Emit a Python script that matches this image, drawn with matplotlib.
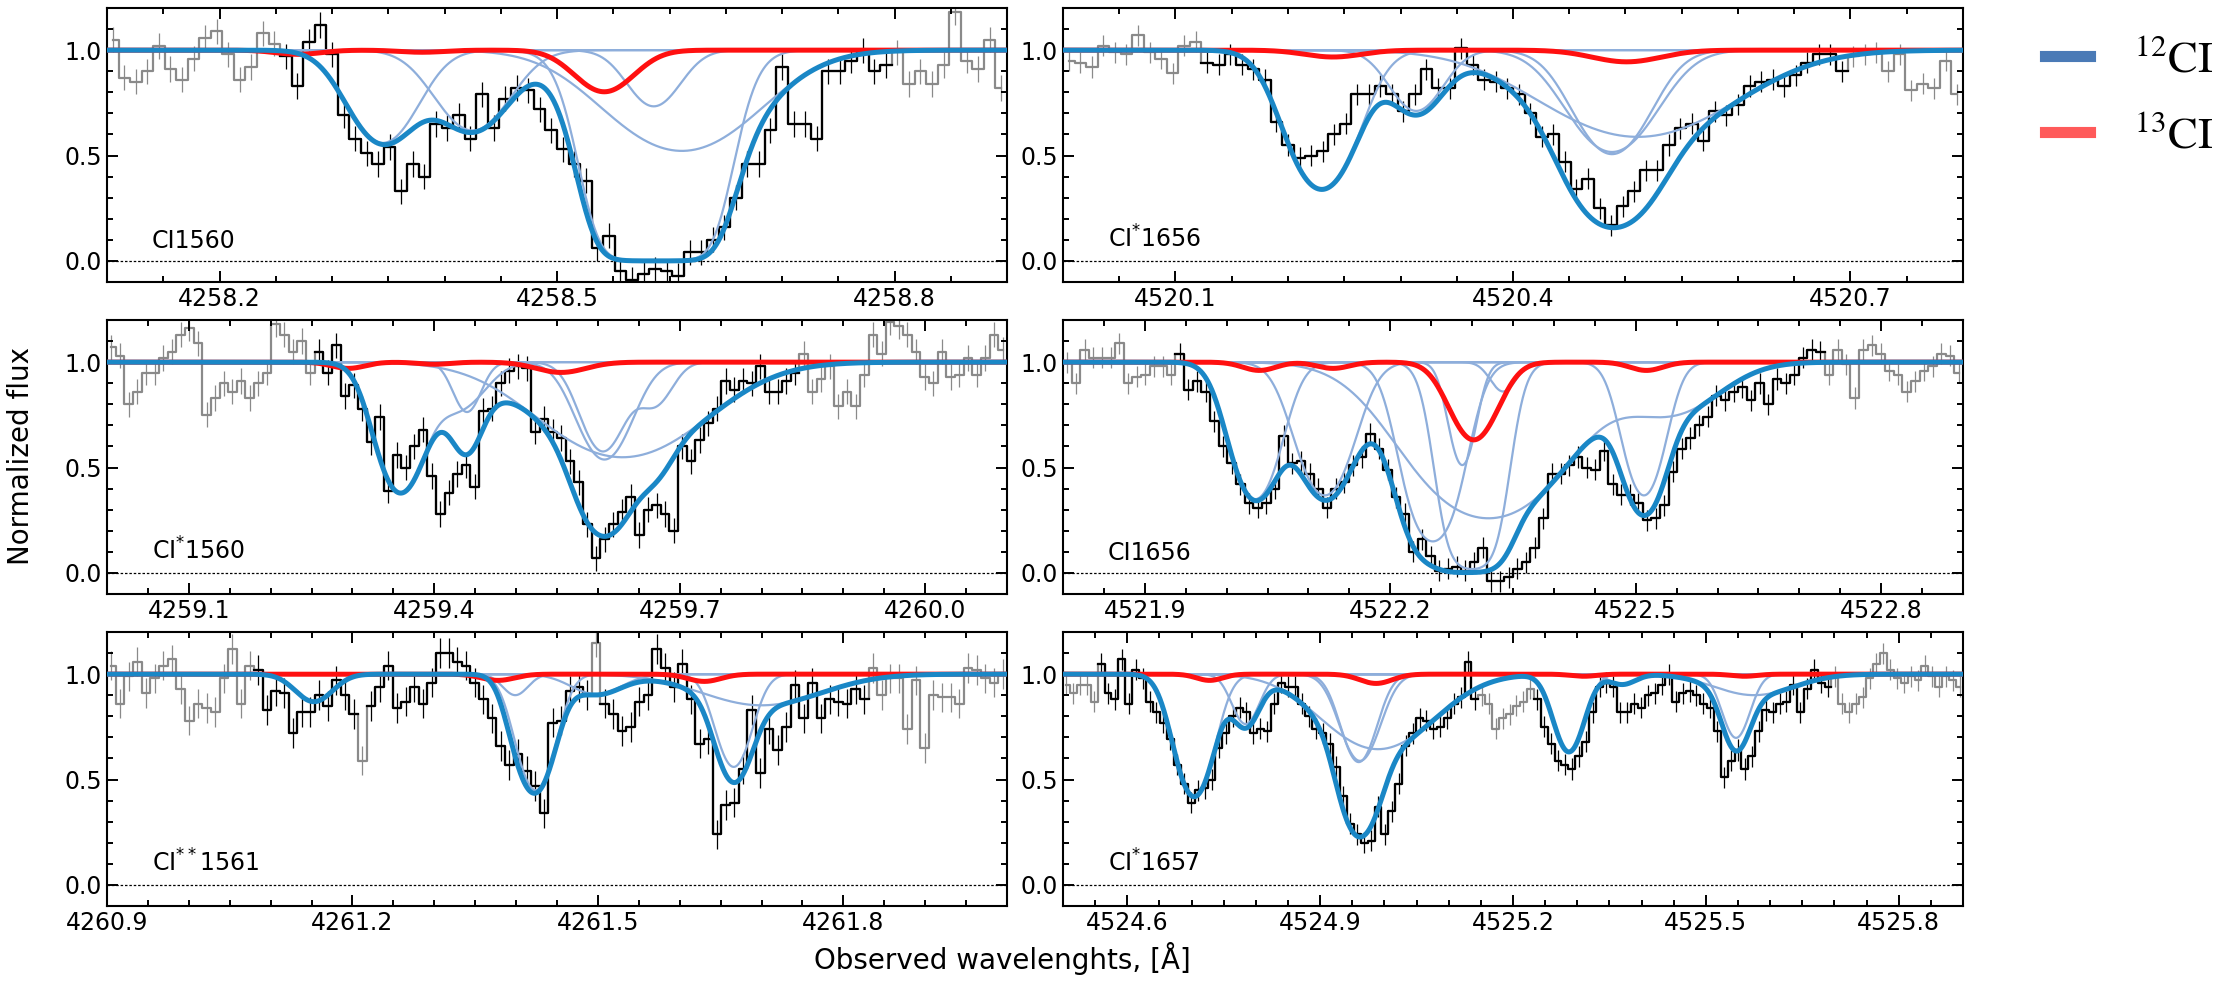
import numpy as np
import matplotlib
matplotlib.use("Agg")
import matplotlib.pyplot as plt
from matplotlib.lines import Line2D
from matplotlib.ticker import MultipleLocator
from matplotlib.font_manager import FontProperties

# ---------------- data ----------------
# panel order: top-left, top-right, mid-left, mid-right, bottom-left, bottom-right
names = ["CI1560", "CI$^{*}$1656", "CI$^{*}$1560", "CI1656", "CI$^{**}$1561", "CI$^{*}$1657"]
xlims = [(4258.1, 4258.9), (4520.0, 4520.8), (4259.0, 4260.1),
         (4521.8, 4522.9), (4260.9, 4262.0), (4524.5, 4525.9)]
fit_ranges = [(4258.253, 4258.795), (4520.125, 4520.698), (4259.253, 4259.843),
              (4521.937, 4522.731), (4261.084, 4261.835), (4524.555, 4525.699)]
masked = [[], [], [], [], [(4261.204, 4261.218), (4261.490, 4261.502)],
          [(4525.144, 4525.230)]]
flux_err = [0.06, 0.05, 0.06, 0.05, 0.07, 0.05]

flux_tl = [1.05, 0.87, 0.85, 0.90, 1.02, 0.91, 0.86, 0.96, 1.06, 1.09, 0.98, 0.86, 0.92,
           1.08, 1.03, 0.97, 0.83, 1.04, 1.12, 0.98, 0.69, 0.58, 0.51, 0.46, 0.54, 0.33,
           0.46, 0.40, 0.65, 0.63, 0.69, 0.58, 0.79, 0.63, 0.77, 0.82, 0.81, 0.72, 0.62,
           0.53, 0.46, 0.38, 0.06, 0.12, -0.05, -0.09, -0.06, -0.04, -0.05, -0.07, 0.04,
           0.04, 0.10, 0.16, 0.30, 0.46, 0.46, 0.62, 0.92, 0.65, 0.65, 0.58, 0.90, 0.90,
           0.95, 1.00, 0.90, 0.93, 0.99, 0.84, 0.90, 0.84, 0.93, 1.18, 0.95, 0.91, 1.05,
           0.82]
flux_tr = [0.95, 0.94, 0.92, 1.02, 0.99, 0.98, 1.07, 0.99, 0.96, 0.89, 1.02, 1.04, 0.94,
           0.93, 0.98, 0.93, 0.91, 0.86, 0.66, 0.55, 0.49, 0.50, 0.52, 0.60, 0.65, 0.79,
           0.79, 0.83, 0.79, 0.71, 0.79, 0.91, 0.82, 0.82, 1.01, 0.93, 0.86, 0.85, 0.82,
           0.79, 0.70, 0.59, 0.60, 0.47, 0.34, 0.39, 0.25, 0.17, 0.26, 0.33, 0.43, 0.43,
           0.55, 0.63, 0.65, 0.57, 0.71, 0.69, 0.74, 0.83, 0.85, 0.86, 0.83, 0.88, 0.94,
           0.98, 0.98, 0.90, 0.97, 0.98, 0.99, 0.90, 0.98, 0.81, 0.84, 0.82, 0.95, 0.79]
flux_ml = [1.07, 1.03, 0.80, 0.86, 0.95, 0.95, 1.02, 1.05, 1.13, 1.16, 1.09, 0.75, 0.83,
           0.90, 0.86, 0.91, 0.83, 0.90, 0.95, 1.18, 1.13, 1.05, 1.10, 0.95, 1.05, 0.95,
           1.08, 0.84, 0.89, 0.78, 0.62, 0.74, 0.39, 0.56, 0.50, 0.60, 0.68, 0.46, 0.28,
           0.38, 0.47, 0.51, 0.41, 0.77, 0.78, 0.90, 0.96, 0.98, 0.97, 0.67, 0.73, 0.67,
           0.64, 0.53, 0.43, 0.23, 0.07, 0.16, 0.23, 0.29, 0.36, 0.18, 0.30, 0.32, 0.28,
           0.20, 0.60, 0.53, 0.63, 0.71, 0.78, 0.91, 0.87, 0.91, 0.90, 0.98, 0.86, 0.86,
           0.91, 0.95, 1.04, 0.86, 0.92, 0.98, 0.79, 0.86, 0.79, 0.94, 1.13, 1.04, 1.19,
           1.17, 1.13, 1.05, 0.93, 0.90, 1.05, 0.93, 0.94, 1.02, 0.94, 1.02, 1.13, 1.06]
flux_mr = [1.00, 0.90, 1.06, 1.02, 1.02, 1.02, 1.09, 0.90, 0.93, 0.94, 0.98, 0.98, 0.94,
           1.04, 0.87, 0.91, 0.86, 0.72, 0.60, 0.52, 0.42, 0.33, 0.31, 0.33, 0.40, 0.65,
           0.52, 0.53, 0.47, 0.40, 0.31, 0.40, 0.43, 0.51, 0.55, 0.66, 0.59, 0.49, 0.36,
           0.28, 0.10, 0.16, 0.08, 0.01, 0.02, 0.03, 0.01, 0.05, 0.12, -0.04, -0.04, -0.02,
           0.02, 0.05, 0.12, 0.26, 0.47, 0.47, 0.51, 0.55, 0.50, 0.49, 0.58, 0.42, 0.37,
           0.37, 0.33, 0.25, 0.26, 0.32, 0.48, 0.59, 0.64, 0.70, 0.74, 0.84, 0.82, 0.86,
           0.88, 0.82, 0.90, 0.80, 0.92, 0.90, 0.94, 1.02, 1.06, 1.05, 0.94, 1.06, 0.99,
           0.83, 1.06, 1.08, 1.04, 0.96, 0.94, 0.86, 0.91, 0.96, 0.98, 1.04, 1.03, 0.95]
flux_bl = [1.04, 0.86, 0.99, 1.06, 0.91, 0.98, 1.04, 1.07, 0.93, 0.78, 0.86, 0.84, 0.82,
           0.98, 1.12, 0.86, 1.04, 1.02, 0.83, 0.92, 0.91, 0.72, 0.82, 0.82, 0.90, 0.85,
           0.97, 0.90, 0.81, 0.59, 0.85, 0.94, 1.04, 0.84, 0.87, 0.94, 0.86, 0.96, 1.10,
           1.10, 1.06, 1.04, 0.96, 0.88, 0.79, 0.66, 0.57, 0.62, 0.54, 0.47, 0.34, 0.77,
           0.78, 0.92, 0.94, 0.90, 1.15, 0.86, 0.81, 0.73, 0.75, 0.87, 0.90, 1.12, 1.03,
           0.94, 1.05, 0.88, 0.67, 0.69, 0.24, 0.38, 0.39, 0.55, 0.83, 0.53, 0.74, 0.64,
           0.75, 0.95, 0.79, 0.96, 0.79, 0.88, 0.87, 0.86, 0.93, 0.88, 1.03, 0.90, 0.98,
           0.98, 0.74, 0.97, 0.65, 0.90, 0.89, 0.89, 0.86, 1.03, 1.02, 0.98, 0.96, 1.00]
flux_br = [0.95, 0.91, 0.95, 0.95, 0.87, 1.05, 0.91, 0.88, 1.07, 0.86, 1.02, 0.98, 0.87,
           0.82, 0.77, 0.69, 0.57, 0.48, 0.39, 0.45, 0.46, 0.50, 0.65, 0.72, 0.80, 0.84,
           0.82, 0.72, 0.74, 0.73, 0.86, 0.96, 0.94, 0.94, 0.86, 0.80, 0.74, 0.72, 0.67,
           0.56, 0.42, 0.29, 0.24, 0.20, 0.21, 0.37, 0.24, 0.35, 0.48, 0.66, 0.72, 0.79,
           0.78, 0.74, 0.75, 0.79, 0.86, 0.89, 1.06, 0.88, 0.90, 0.86, 0.74, 0.79, 0.81,
           0.85, 0.87, 0.93, 0.88, 0.75, 0.67, 0.59, 0.57, 0.55, 0.61, 0.68, 0.82, 0.94,
           0.96, 0.94, 0.82, 0.82, 0.86, 0.84, 0.90, 0.91, 0.95, 1.00, 0.87, 0.91, 0.92,
           0.90, 0.86, 0.84, 0.73, 0.51, 0.59, 0.64, 0.55, 0.61, 0.73, 0.83, 0.82, 0.86,
           0.87, 0.95, 0.82, 0.93, 1.02, 0.96, 0.94, 0.99, 0.86, 0.82, 0.86, 0.89, 0.98,
           1.05, 1.10, 1.02, 0.98, 0.96, 0.99, 0.97, 1.04, 0.99, 0.94, 0.99, 0.97, 0.94]
fluxes = [flux_tl, flux_tr, flux_ml, flux_mr, flux_bl, flux_br]

# fitted 12CI components: one list per transition (thin curves), (centre, tau0, sigma)
lines12_tl = [[(4258.345, 0.58, 0.028)], [(4258.425, 0.48, 0.030)],
              [(4258.586, 0.31, 0.022)], [(4258.611, 0.65, 0.060)],
              [(4258.588, 8.0, 0.032)]]
lines12_tr = [[(4520.230, 1.08, 0.027)], [(4520.314, 0.34, 0.022)],
              [(4520.488, 0.66, 0.035)], [(4520.488, 0.68, 0.030)],
              [(4520.511, 0.53, 0.077)]]
lines12_ml = [[(4259.358, 0.95, 0.026), (4259.430, 0.25, 0.030)],
              [(4259.440, 0.27, 0.016)],
              [(4259.606, 0.55, 0.025), (4259.670, 0.22, 0.020)],
              [(4259.608, 0.62, 0.030)], [(4259.630, 0.60, 0.090)]]
lines12_mr = [[(4522.035, 1.05, 0.0265)], [(4522.120, 1.00, 0.030)],
              [(4522.252, 1.90, 0.028)],
              [(4522.320, 1.35, 0.080), (4522.545, 0.27, 0.055)],
              [(4522.288, 0.67, 0.015)], [(4522.338, 0.15, 0.015)],
              [(4522.300, 4.00, 0.025)], [(4522.510, 1.00, 0.022)]]
lines12_bl = [[(4261.153, 0.14, 0.022)], [(4261.399, 0.105, 0.015)],
              [(4261.424, 0.80, 0.021)], [(4261.498, 0.10, 0.030)],
              [(4261.700, 0.16, 0.070)], [(4261.666, 0.58, 0.020)]]
lines12_br = [[(4524.704, 0.87, 0.027)], [(4524.784, 0.27, 0.020)],
              [(4524.960, 0.54, 0.025)], [(4524.962, 0.53, 0.028)],
              [(4524.990, 0.44, 0.080)], [(4525.287, 0.46, 0.022)],
              [(4525.370, 0.05, 0.020)], [(4525.547, 0.36, 0.020)],
              [(4525.575, 0.105, 0.060)]]
lines12 = [lines12_tl, lines12_tr, lines12_ml, lines12_mr, lines12_bl, lines12_br]

# 13CI components
lines13 = [
    [(4258.27, 0.02, 0.02), (4258.38, 0.01, 0.02), (4258.542, 0.22, 0.025)],
    [(4520.240, 0.033, 0.025), (4520.501, 0.057, 0.030)],
    [(4259.295, 0.03, 0.02), (4259.40, 0.01, 0.02), (4259.555, 0.05, 0.03)],
    [(4522.04, 0.04, 0.02), (4522.13, 0.03, 0.02), (4522.302, 0.46, 0.027),
     (4522.513, 0.04, 0.02)],
    [(4261.378, 0.03, 0.02), (4261.63, 0.035, 0.02)],
    [(4524.728, 0.03, 0.02), (4524.987, 0.045, 0.025), (4525.31, 0.01, 0.02),
     (4525.56, 0.01, 0.02)],
]

C_BLUE = "#1a87c6"
C_RED = "#ff1010"
C_THIN = "#8eaedb"


def profile(x, comps):
    tau = np.zeros_like(x)
    for c, t0, s in comps:
        tau += t0 * np.exp(-0.5 * ((x - c) / s) ** 2)
    return np.exp(-tau)


fig = plt.figure(figsize=(22.28, 9.82), dpi=100)
W, H = 2228, 982
col_x = [107, 1063]
row_y = [8, 320, 632]
pw, ph = 900, 274

for k in range(6):
    r, c = divmod(k, 2)
    ax = fig.add_axes([col_x[c] / W, 1 - (row_y[r] + ph) / H, pw / W, ph / H])
    lo, hi = xlims[k]
    fl = np.array(fluxes[k])
    n = len(fl)
    w = (hi - lo) / n
    lam = lo + (np.arange(n) + 0.5) * w

    infit = (lam >= fit_ranges[k][0]) & (lam <= fit_ranges[k][1])
    for a, b in masked[k]:
        infit &= ~((lam >= a) & (lam <= b))

    ax.step(lam, fl, where="mid", color="#8a8a8a", lw=1.6, zorder=1)
    ax.errorbar(lam[~infit], fl[~infit], yerr=flux_err[k], fmt="none",
                ecolor="#8a8a8a", elinewidth=0.9, zorder=1)
    fb = np.where(infit, fl, np.nan)
    ax.step(lam, fb, where="mid", color="black", lw=1.6, zorder=2)
    ax.errorbar(lam[infit], fl[infit], yerr=flux_err[k], fmt="none",
                ecolor="black", elinewidth=0.9, zorder=2)

    x = np.linspace(lo, hi, 3000)
    total = np.ones_like(x)
    for comps in lines12[k]:
        p = profile(x, comps)
        total *= p
        ax.plot(x, p, color=C_THIN, lw=1.6, zorder=3)
    ax.plot(x, profile(x, lines13[k]), color=C_RED, lw=3.6, zorder=4)
    ax.plot(x, total, color=C_BLUE, lw=3.6, zorder=5)

    ax.axhline(0.0, color="black", ls=(0, (2, 1.5)), lw=0.9, zorder=0)
    ax.set_xlim(lo, hi)
    ax.set_ylim(-0.1, 1.2)
    ax.xaxis.set_major_locator(MultipleLocator(0.3))
    ax.xaxis.set_minor_locator(MultipleLocator(0.05))
    ax.yaxis.set_major_locator(MultipleLocator(0.5))
    ax.yaxis.set_minor_locator(MultipleLocator(0.1))
    ax.xaxis.set_major_formatter(plt.FuncFormatter(lambda v, p: f"{v:.1f}"))
    ax.tick_params(which="both", direction="in", top=True, right=True,
                   labelsize=17, width=1.4)
    ax.tick_params(which="major", length=8)
    ax.tick_params(which="minor", length=4.5)
    for s in ax.spines.values():
        s.set_linewidth(1.5)
    ax.text(0.05, 0.125, names[k], transform=ax.transAxes, fontsize=17,
            va="baseline", ha="left")

fig.text(0.0095, 0.536, "Normalized flux", rotation=90, fontsize=20,
         ha="center", va="center")
fig.text(0.45, 0.024, "Observed wavelenghts, [Å]", fontsize=20,
         ha="center", va="center")

handles = [Line2D([], [], color="#4a7ab6", lw=8),
           Line2D([], [], color="#ff5a5a", lw=8)]
fig.legend(handles, [r"$^{12}\mathrm{CI}$", r"$^{13}\mathrm{CI}$"],
           loc="upper left", bbox_to_anchor=(0.918, 0.962), frameon=False,
           prop=FontProperties(size=32, math_fontfamily="stix"),
           borderpad=0, borderaxespad=0,
           handlelength=1.0, handletextpad=1.0, labelspacing=0.75)

fig.savefig("out.png", dpi=100)
